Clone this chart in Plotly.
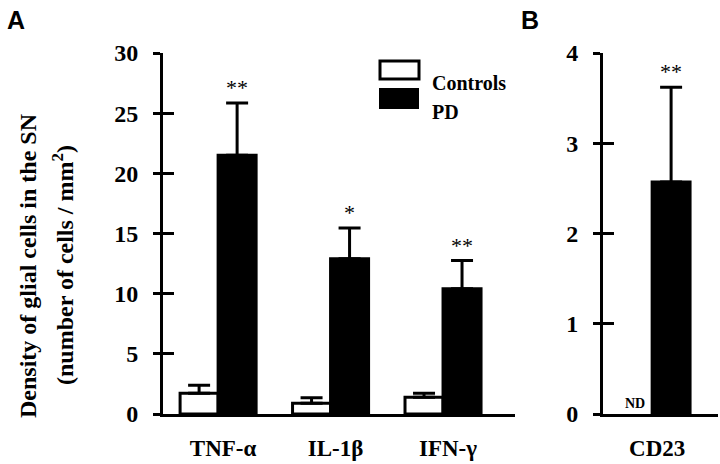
import plotly.graph_objects as go

# Données (densité de cellules gliales, cellules / mm2)
cytokines = ["TNF-α", "IL-1β", "IFN-γ"]
controls_vals = [1.72, 0.89, 1.39]
controls_err = [0.66, 0.47, 0.33]
pd_vals = [21.5, 12.9, 10.4]
pd_err = [4.35, 2.55, 2.35]
stars_a = ["**", "*", "**"]

cd23_cat = ["CD23"]
cd23_controls = [0]
cd23_pd = [2.57]
cd23_pd_err = [1.05]
stars_b = ["**"]

SERIF = "Liberation Serif"
H = 464
T, B = 53, 50
PH = H - T - B


def py(px):  # pixel -> paper y
    return (H - B - px) / PH


bold = dict(family=SERIF, color="black", weight="bold")

fig = go.Figure()

err_style = dict(type="data", symmetric=False, color="black", thickness=3, width=11)

fig.add_trace(go.Bar(x=cytokines, y=controls_vals, name="Controls",
                     marker=dict(color="white", line=dict(color="black", width=3)),
                     error_y=dict(array=controls_err, arrayminus=[0] * 3, **err_style),
                     xaxis="x", yaxis="y"))
fig.add_trace(go.Bar(x=cytokines, y=pd_vals, name="PD",
                     marker=dict(color="black", line=dict(color="black", width=3)),
                     error_y=dict(array=pd_err, arrayminus=[0] * 3, **err_style),
                     xaxis="x", yaxis="y"))
fig.add_trace(go.Bar(x=cd23_cat, y=cd23_controls, name="Controls",
                     marker=dict(color="white", line=dict(color="black", width=0)),
                     xaxis="x2", yaxis="y2"))
fig.add_trace(go.Bar(x=cd23_cat, y=cd23_pd, name="PD",
                     marker=dict(color="black", line=dict(color="black", width=3)),
                     error_y=dict(array=cd23_pd_err, arrayminus=[0], **err_style),
                     xaxis="x2", yaxis="y2"))
# traces vides pour les axes de graduations intérieures
fig.add_trace(go.Scatter(x=[None], y=[None], xaxis="x", yaxis="y3", showlegend=False))
fig.add_trace(go.Scatter(x=[None], y=[None], xaxis="x2", yaxis="y4", showlegend=False))

xcommon = dict(type="category", showline=True, linewidth=3, linecolor="black",
               ticks="", showgrid=False, zeroline=False, automargin=False,
               tickfont=dict(size=23, **bold), ticklabelstandoff=11, ticklabelshift=5)
ycommon = dict(showline=True, linewidth=3, linecolor="black", ticks="outside",
               ticklen=7, tickwidth=3, tickcolor="black", showgrid=False,
               zeroline=False, automargin=False,
               tickfont=dict(size=24, **bold), ticklabelstandoff=10)
yinside = dict(showline=False, ticks="inside", ticklen=11, tickwidth=3, automargin=False,
               tickcolor="black", showticklabels=False, showgrid=False, zeroline=False)

fig.update_layout(
    template="none",
    width=720, height=H,
    margin=dict(l=0, r=0, t=T, b=B, autoexpand=False),
    plot_bgcolor="white", paper_bgcolor="white",
    barmode="group", bargap=0.324, bargroupgap=0,
    showlegend=False,
    xaxis=dict(domain=[163 / 720, 515 / 720], range=[-0.49, 2.64], anchor="y", **xcommon),
    yaxis=dict(range=[0, 30], dtick=5, anchor="x", **ycommon),
    yaxis3=dict(range=[0, 30], dtick=5, overlaying="y", anchor="x", **yinside),
    xaxis2=dict(domain=[603 / 720, 718 / 720], range=[-0.438, 0.587], anchor="y2", **xcommon),
    yaxis2=dict(range=[0, 4], dtick=1, anchor="x2", **ycommon),
    yaxis4=dict(range=[0, 4], dtick=1, overlaying="y2", anchor="x2", **yinside),
)

# étoiles de significativité
for cat, v, e, s in zip(cytokines, pd_vals, pd_err, stars_a):
    fig.add_annotation(x=cat, y=v + e, xref="x", yref="y", text=s, showarrow=False,
                       xshift=19, yshift=1, yanchor="bottom",
                       font=dict(family=SERIF, size=22, color="black"))
for cat, v, e, s in zip(cd23_cat, cd23_pd, cd23_pd_err, stars_b):
    fig.add_annotation(x=cat, y=v + e, xref="x2", yref="y2", text=s, showarrow=False,
                       xshift=19, yshift=1, yanchor="bottom",
                       font=dict(family=SERIF, size=22, color="black"))
fig.add_annotation(x=cd23_cat[0], y=0, xref="x2", yref="y2", text="ND", showarrow=False,
                   xshift=-17, yshift=1, yanchor="bottom", font=dict(size=14, **bold))

# titre de l'axe y
fig.add_annotation(x=28 / 720, y=py(266), xref="paper", yref="paper", textangle=-90,
                   xanchor="center", yanchor="middle",
                   text="Density of glial cells in the SN", showarrow=False,
                   font=dict(size=24, **bold))
fig.add_annotation(x=63 / 720, y=py(265), xref="paper", yref="paper", textangle=-90,
                   xanchor="center", yanchor="middle",
                   text="(number of cells / mm<sup>2</sup>)", showarrow=False,
                   font=dict(size=24, **bold))

# légende dessinée
fig.add_shape(type="rect", xref="paper", yref="paper", x0=380 / 720, x1=419 / 720,
              y0=py(79), y1=py(61), fillcolor="white", line=dict(color="black", width=3))
fig.add_shape(type="rect", xref="paper", yref="paper", x0=379 / 720, x1=419 / 720,
              y0=py(109), y1=py(88), fillcolor="black", line=dict(color="black", width=0))
fig.add_annotation(x=430 / 720, y=py(70), xref="paper", yref="paper", text="Controls",
                   showarrow=False, xanchor="left", font=dict(size=20, **bold))
fig.add_annotation(x=430 / 720, y=py(99), xref="paper", yref="paper", text="PD",
                   showarrow=False, xanchor="left", font=dict(size=20, **bold))

# lettres des panneaux
fig.add_annotation(x=5 / 720, y=py(4), xref="paper", yref="paper", text="A",
                   showarrow=False, xanchor="left", yanchor="top",
                   font=dict(family="Liberation Sans", size=25, color="black", weight="bold"))
fig.add_annotation(x=519 / 720, y=py(4), xref="paper", yref="paper", text="B",
                   showarrow=False, xanchor="left", yanchor="top",
                   font=dict(family="Liberation Sans", size=25, color="black", weight="bold"))

# pas de marge du navigateur autour du graphique
fig.write_html("out.html", config={"displayModeBar": False},
               post_script="document.body.style.margin='0';")
